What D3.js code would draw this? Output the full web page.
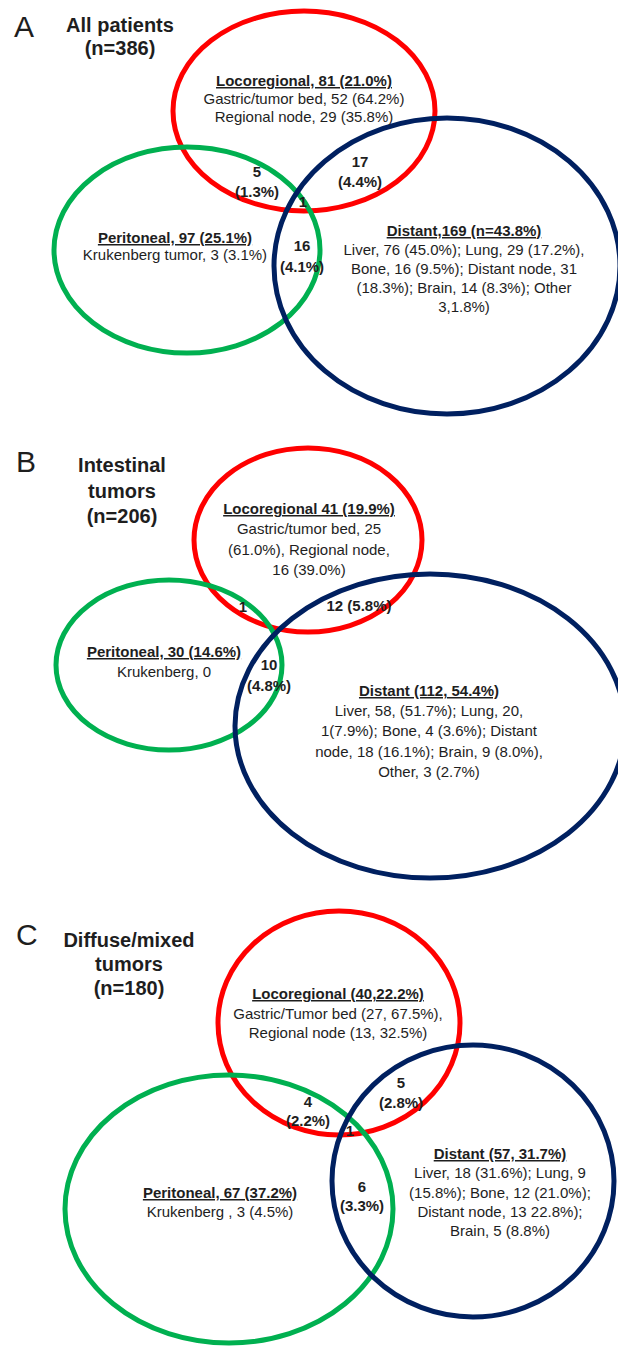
<!DOCTYPE html>
<html>
<head>
<meta charset="utf-8">
<script src="https://cdn.jsdelivr.net/npm/d3@7"></script>
<style>
  body { margin: 0; background: #fff; }
  svg text { font-family: "Liberation Sans", Arial, sans-serif; fill: #1e1e1e; }
</style>
</head>
<body>
<div id="container"></div>
<script>
// ---- data ----
let panelLetters = ["A", "B", "C"];
let panelTitles = [
  ["All patients", "(n=386)"],
  ["Intestinal", "tumors", "(n=206)"],
  ["Diffuse/mixed", "tumors", "(n=180)"]
];
let setNames = ["Locoregional", "Peritoneal", "Distant"];

let locoLines = [
  ["Locoregional, 81 (21.0%)", "Gastric/tumor bed, 52 (64.2%)", "Regional node, 29 (35.8%)"],
  ["Locoregional 41 (19.9%)", "Gastric/tumor bed, 25", "(61.0%), Regional node,", "16 (39.0%)"],
  ["Locoregional (40,22.2%)", "Gastric/Tumor bed (27, 67.5%),", "Regional node (13, 32.5%)"]
];
let periLines = [
  ["Peritoneal, 97 (25.1%)", "Krukenberg tumor, 3 (3.1%)"],
  ["Peritoneal, 30 (14.6%)", "Krukenberg, 0"],
  ["Peritoneal, 67 (37.2%)", "Krukenberg , 3 (4.5%)"]
];
let distLines = [
  ["Distant,169 (n=43.8%)", "Liver, 76 (45.0%); Lung, 29 (17.2%),", "Bone, 16 (9.5%); Distant node, 31", "(18.3%); Brain, 14 (8.3%); Other", "3,1.8%)"],
  ["Distant (112, 54.4%)", "Liver, 58, (51.7%); Lung, 20,", "1(7.9%); Bone, 4 (3.6%); Distant", "node, 18 (16.1%); Brain, 9 (8.0%),", "Other, 3 (2.7%)"],
  ["Distant (57, 31.7%)", "Liver, 18 (31.6%); Lung, 9", "(15.8%); Bone, 12 (21.0%);", "Distant node, 13 22.8%);", "Brain, 5 (8.8%)"]
];
// overlaps
let locoPeriLines = [["5", "(1.3%)"], ["1"], ["4", "(2.2%)"]];
let locoDistLines = [["17", "(4.4%)"], ["12 (5.8%)"], ["5", "(2.8%)"]];
let periDistLines = [["16", "(4.1%)"], ["10", "(4.8%)"], ["6", "(3.3%)"]];
let allThreeLines = [["1"], [], ["1"]];

// ---- layout (not data) ----
let w = 618;
let h = 1347;
let panelTop = [0, 440, 880];

// ellipse placement per panel, in set order
let ellipseLayout = [
  [{cx: 304, cy: 111, rx: 131, ry: 100}, {cx: 187, cy: 250, rx: 133, ry: 103}, {cx: 447, cy: 266, rx: 173, ry: 148}],
  [{cx: 308, cy: 100, rx: 114, ry: 92},  {cx: 169, cy: 225, rx: 113, ry: 85},  {cx: 430, cy: 286, rx: 195, ry: 152}],
  [{cx: 339, cy: 143, rx: 121, ry: 112}, {cx: 229, cy: 329, rx: 164, ry: 134}, {cx: 473, cy: 301, rx: 141, ry: 136}]
];

// [x, first baseline, line step]
let labelLayout = [
  {letter: [14, 37], title: [120, 32, 23], loco: [304, 86, 18], peri: [175, 243, 17], dist: [464, 236, 19],
   lp: [257, 177, 20], ld: [360, 167, 20], pd: [302, 251, 21], all: [303, 207, 0]},
  {letter: [16, 32], title: [122, 32, 25.5], loco: [309, 74, 20.3], peri: [164, 217, 20], dist: [429, 256, 20.2],
   lp: [243, 172, 0], ld: [359, 171, 0], pd: [269, 230, 21], all: [0, 0, 0]},
  {letter: [16, 65], title: [129, 67, 24], loco: [338, 119, 19.5], peri: [220, 318, 19], dist: [500, 279, 19.3],
   lp: [308, 227, 19], ld: [401, 208, 20], pd: [362, 312, 19], all: [350, 256, 0]}
];

let colorScale = d3.scaleOrdinal().domain(setNames).range(["#ff0000", "#00b050", "#002060"]);

let viz = d3.select("#container")
  .append("svg")
    .attr("width", w)
    .attr("height", h)
    .style("background-color", "white")
;

// writes a block of centred lines, first one optionally bold+underlined
function writeLines(g, lines, pos, opts){
  let t = g.append("text")
    .attr("text-anchor", opts.anchor || "middle")
    .attr("font-size", opts.size + "px");
  lines.forEach(function(line, i){
    let span = t.append("tspan")
      .attr("x", pos[0])
      .attr("y", pos[1] + i * pos[2])
      .text(line);
    if(opts.allBold || (opts.header && i == 0)){
      span.attr("font-weight", "bold");
    }
    if(opts.header && i == 0){
      span.style("text-decoration", "underline");
    }
  });
}

panelLetters.forEach(function(letter, p){
  let g = viz.append("g")
    .attr("class", "panel")
    .attr("transform", "translate(0," + panelTop[p] + ")");

  let sets = setNames.map(function(name, i){
    return {name: name, geo: ellipseLayout[p][i]};
  });

  g.selectAll("ellipse")
    .data(sets)
    .enter()
    .append("ellipse")
      .attr("cx", function(d){ return d.geo.cx; })
      .attr("cy", function(d){ return d.geo.cy; })
      .attr("rx", function(d){ return d.geo.rx; })
      .attr("ry", function(d){ return d.geo.ry; })
      .attr("fill", "none")
      .attr("stroke", function(d){ return colorScale(d.name); })
      .attr("stroke-width", 5)
  ;

  let L = labelLayout[p];

  g.append("text")
    .attr("x", L.letter[0])
    .attr("y", L.letter[1])
    .attr("font-size", "30px")
    .text(letter);

  writeLines(g, panelTitles[p], L.title, {size: 20, allBold: true});
  writeLines(g, locoLines[p], L.loco, {size: 15, header: true});
  writeLines(g, periLines[p], L.peri, {size: 15, header: true});
  writeLines(g, distLines[p], L.dist, {size: 15, header: true});
  writeLines(g, locoPeriLines[p], L.lp, {size: 15, allBold: true});
  writeLines(g, locoDistLines[p], L.ld, {size: 15, allBold: true});
  writeLines(g, periDistLines[p], L.pd, {size: 15, allBold: true});
  if(allThreeLines[p].length > 0){
    writeLines(g, allThreeLines[p], L.all, {size: 15, allBold: true});
  }
});
</script>
</body>
</html>
